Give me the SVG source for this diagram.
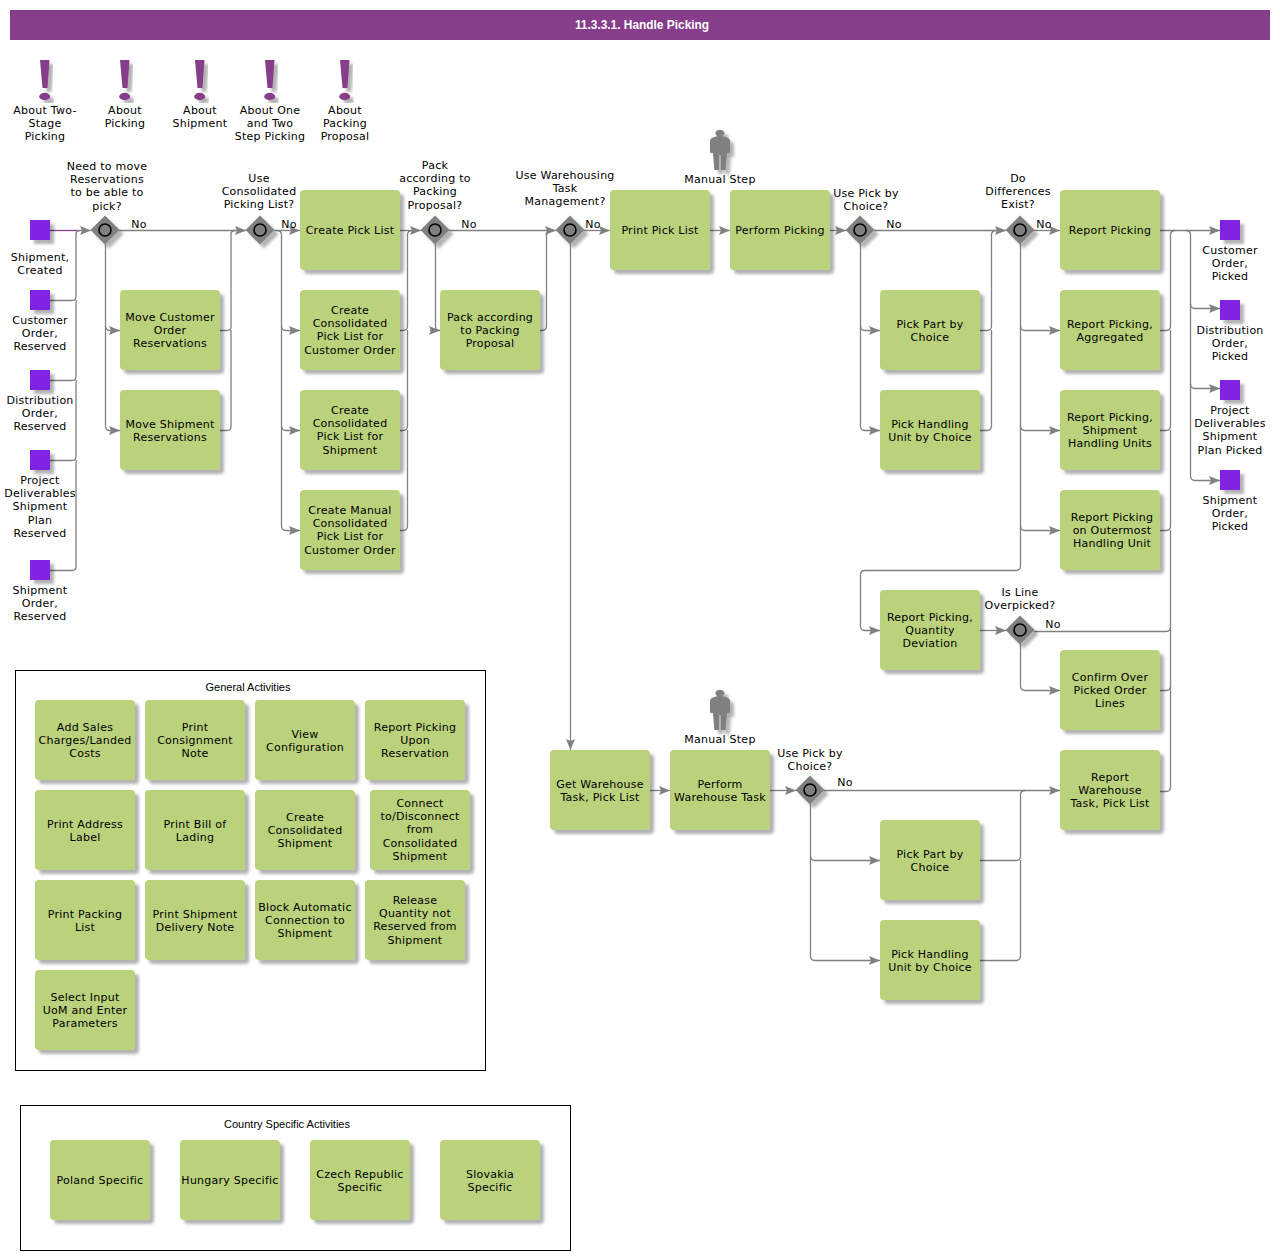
<svg xmlns="http://www.w3.org/2000/svg" width="1280" height="1260" viewBox="0 0 1280 1260">
<defs>
<style>
text{font-family:"DejaVu Sans",Verdana,sans-serif;font-size:11px;letter-spacing:.25px;fill:#000;text-anchor:middle}
.t{font-family:"Liberation Sans",Arial,sans-serif;font-size:11.900px;letter-spacing:0;font-weight:bold;fill:#fff}
.g{font-family:"Liberation Sans",Arial,sans-serif;font-size:11px;letter-spacing:0}
.b{fill:#bbd27c;filter:url(#s)}
.e{fill:#8224e3;filter:url(#s)}
.d{fill:#808080;filter:url(#s)}
.c{fill:#808080;stroke:#000;stroke-width:1.600}
.m{fill:#863d8a;filter:url(#s)}
.p{fill:#808080;filter:url(#s)}
.f{fill:#fff;stroke:#000;stroke-width:1}
.k path{fill:none;stroke:#808080;stroke-width:1.300;marker-end:url(#a)}
.k path.n{marker-end:none}
.k path.u{stroke:#863d8a;marker-end:none}
</style>
<filter id="s" x="-20%" y="-20%" width="150%" height="150%"><feDropShadow dx="4" dy="4" stdDeviation="1.500" flood-color="#000" flood-opacity=".3"/></filter>
<marker id="a" markerUnits="userSpaceOnUse" markerWidth="12" markerHeight="10" refX="11" refY="4.500" orient="auto"><path d="M0 0L11 4.500L0 9L2 4.500z" fill="#808080"/></marker>
<g id="ex"><path class="m" d="M40 60H49.500L47.500 88H42.500z"/><ellipse class="m" cx="44.700" cy="96.500" rx="5.500" ry="3.700"/></g>
<path id="man" class="p" d="M716 136.500Q720 135 724 136.500Q730 137.500 730 141V152Q730 153 729 153H727L725.700 170H720.700V155H719.300V170H714.300L713 153H711Q710 153 710 152V141Q710 137.500 716 136.500ZM720 129.800A4.500 3.500 0 1 1 719.900 129.800Z"/>
</defs>
<g id="title"><rect x="10" y="10" width="1260" height="30" fill="#863d8a"/><text class="t" x="642" y="29">11.3.3.1. Handle Picking</text></g>

<g id="frames">
<rect class="f" x="15.500" y="670.500" width="470" height="400"/>
<text class="g" x="248" y="691">General Activities</text>
<rect class="f" x="20.500" y="1105.500" width="550" height="145"/>
<text class="g" x="287" y="1128">Country Specific Activities</text>
</g>

<g id="connectors" class="k">
<path class="u" d="M50 230.500H77"/>
<path d="M76 230.500H91"/>
<path class="n" d="M50 300.500H72Q76 300.500 76 296.500V234.500Q76 230.500 80 230.500"/>
<path class="n" d="M50 380.500H72Q76 380.500 76 376.500V300"/>
<path class="n" d="M50 460.500H72Q76 460.500 76 456.500V380"/>
<path class="n" d="M50 570.500H72Q76 570.500 76 566.500V460"/>
<path d="M119 230.500H246"/>
<path d="M105.500 244V326Q105.500 330.500 110 330.500H120"/>
<path d="M105.500 326V426Q105.500 430.500 110 430.500H120"/>
<path class="n" d="M220 330.500H227Q231 330.500 231 326.500V234.500Q231 230.500 235 230.500"/>
<path class="n" d="M220 430.500H227Q231 430.500 231 426.500V330"/>
<path d="M274 230.500H300"/>
<path d="M277 230.500Q281.500 230.500 281.500 235V326Q281.500 330.500 286 330.500H300"/>
<path d="M281.500 326V426Q281.500 430.500 286 430.500H300"/>
<path d="M281.500 426V526Q281.500 530.500 286 530.500H300"/>
<path d="M400 230.500H421"/>
<path class="n" d="M400 330.500H403Q407.500 330.500 407.500 326V235Q407.500 230.500 412 230.500"/>
<path class="n" d="M400 430.500H403Q407.500 430.500 407.500 426V330"/>
<path class="n" d="M400 530.500H403Q407.500 530.500 407.500 526V430"/>
<path d="M449 230.500H556"/>
<path class="n" d="M435.500 244V326Q435.500 330.500 440 330.500"/>
<path d="M430 330.500H440"/>
<path class="n" d="M540 330.500H542Q546.500 330.500 546.500 326V235Q546.500 230.500 551 230.500"/>
<path d="M584 230.500H610"/>
<path d="M570.500 244V750"/>
<path d="M710 230.500H730"/>
<path d="M830 230.500H846"/>
<path d="M874 230.500H1006"/>
<path d="M860.500 244V326Q860.500 330.500 865 330.500H880"/>
<path d="M860.500 326V426Q860.500 430.500 865 430.500H880"/>
<path class="n" d="M980 330.500H987Q991.500 330.500 991.500 326V235Q991.500 230.500 996 230.500"/>
<path class="n" d="M980 430.500H987Q991.500 430.500 991.500 426V330"/>
<path d="M1034 230.500H1060"/>
<path d="M1020.500 244V326Q1020.500 330.500 1025 330.500H1060"/>
<path d="M1020.500 326V426Q1020.500 430.500 1025 430.500H1060"/>
<path d="M1020.500 426V526Q1020.500 530.500 1025 530.500H1060"/>
<path d="M1020.500 526V566Q1020.500 570.500 1016 570.500H865Q860.500 570.500 860.500 575V626Q860.500 630.500 865 630.500H880"/>
<path d="M980 630.500H1006"/>
<path class="n" d="M1034 631.500H1166Q1170.500 631.500 1170.500 627"/>
<path d="M1020.500 644V686Q1020.500 690.500 1025 690.500H1060"/>
<path d="M1160 230.500H1220"/>
<path class="n" d="M1160 330.500H1166Q1170.500 330.500 1170.500 326V235Q1170.500 230.500 1175 230.500"/>
<path class="n" d="M1160 430.500H1166Q1170.500 430.500 1170.500 426V330"/>
<path class="n" d="M1160 530.500H1166Q1170.500 530.500 1170.500 526V430"/>
<path class="n" d="M1160 690.500H1166Q1170.500 690.500 1170.500 686V530"/>
<path class="n" d="M1160 791.500H1166Q1170.500 791.500 1170.500 787V686"/>
<path d="M1186 230.500Q1190.500 230.500 1190.500 235V304Q1190.500 308.500 1195 308.500H1220"/>
<path d="M1190.500 304V384Q1190.500 388.500 1195 388.500H1220"/>
<path d="M1190.500 384V476Q1190.500 480.500 1195 480.500H1220"/>
<path d="M650 790.500H670"/>
<path d="M770 790.500H796"/>
<path d="M824 790.500H1060"/>
<path d="M810.500 804V856Q810.500 860.500 815 860.500H880"/>
<path d="M810.500 856V956Q810.500 960.500 815 960.500H880"/>
<path class="n" d="M980 860.500H1016Q1020.500 860.500 1020.500 856V795Q1020.500 790.500 1025 790.500"/>
<path class="n" d="M980 960.500H1016Q1020.500 960.500 1020.500 956V860"/>
</g>

<g id="note1"><use href="#ex"/><text x="45" y="114">About Two-</text><text x="45" y="127">Stage</text><text x="45" y="140">Picking</text></g>
<g id="note2"><use href="#ex" x="80"/><text x="125" y="114">About</text><text x="125" y="127">Picking</text></g>
<g id="note3"><use href="#ex" x="155"/><text x="200" y="114">About</text><text x="200" y="127">Shipment</text></g>
<g id="note4"><use href="#ex" x="225"/><text x="270" y="114">About One</text><text x="270" y="127">and Two</text><text x="270" y="140">Step Picking</text></g>
<g id="note5"><use href="#ex" x="300"/><text x="345" y="114">About</text><text x="345" y="127">Packing</text><text x="345" y="140">Proposal</text></g>

<g id="ev1"><rect class="e" x="30" y="220" width="20" height="20"/><text x="40" y="261">Shipment,</text><text x="40" y="274">Created</text></g>
<g id="ev2"><rect class="e" x="30" y="290" width="20" height="20"/><text x="40" y="324">Customer</text><text x="40" y="337">Order,</text><text x="40" y="350">Reserved</text></g>
<g id="ev3"><rect class="e" x="30" y="370" width="20" height="20"/><text x="40" y="404">Distribution</text><text x="40" y="417">Order,</text><text x="40" y="430">Reserved</text></g>
<g id="ev4"><rect class="e" x="30" y="450" width="20" height="20"/><text x="40" y="484">Project</text><text x="40" y="497">Deliverables</text><text x="40" y="510">Shipment</text><text x="40" y="524">Plan</text><text x="40" y="537">Reserved</text></g>
<g id="ev5"><rect class="e" x="30" y="560" width="20" height="20"/><text x="40" y="594">Shipment</text><text x="40" y="607">Order,</text><text x="40" y="620">Reserved</text></g>
<g id="ev6"><rect class="e" x="1220" y="220" width="20" height="20"/><text x="1230" y="254">Customer</text><text x="1230" y="267">Order,</text><text x="1230" y="280">Picked</text></g>
<g id="ev7"><rect class="e" x="1220" y="300" width="20" height="20"/><text x="1230" y="334">Distribution</text><text x="1230" y="347">Order,</text><text x="1230" y="360">Picked</text></g>
<g id="ev8"><rect class="e" x="1220" y="380" width="20" height="20"/><text x="1230" y="414">Project</text><text x="1230" y="427">Deliverables</text><text x="1230" y="440">Shipment</text><text x="1230" y="454">Plan Picked</text></g>
<g id="ev9"><rect class="e" x="1220" y="470" width="20" height="20"/><text x="1230" y="504">Shipment</text><text x="1230" y="517">Order,</text><text x="1230" y="530">Picked</text></g>

<g id="gw1"><path class="d" d="M105 215.500L119.500 230L105 244.500L90.500 230z"/><circle class="c" cx="105" cy="230" r="6"/><text x="107" y="170">Need to move</text><text x="107" y="183">Reservations</text><text x="107" y="196">to be able to</text><text x="107" y="210">pick?</text><text x="139" y="228">No</text></g>
<g id="gw2"><path class="d" d="M260 215.500L274.500 230L260 244.500L245.500 230z"/><circle class="c" cx="260" cy="230" r="6"/><text x="259" y="182">Use</text><text x="259" y="195">Consolidated</text><text x="259" y="208">Picking List?</text><text x="289" y="228">No</text></g>
<g id="gw3"><path class="d" d="M435 215.500L449.500 230L435 244.500L420.500 230z"/><circle class="c" cx="435" cy="230" r="6"/><text x="435" y="169">Pack</text><text x="435" y="182">according to</text><text x="435" y="195">Packing</text><text x="435" y="209">Proposal?</text><text x="469" y="228">No</text></g>
<g id="gw4"><path class="d" d="M570 215.500L584.500 230L570 244.500L555.500 230z"/><circle class="c" cx="570" cy="230" r="6"/><text x="565" y="179">Use Warehousing</text><text x="565" y="192">Task</text><text x="565" y="205">Management?</text><text x="593" y="228">No</text></g>
<g id="gw5"><path class="d" d="M860 215.500L874.500 230L860 244.500L845.500 230z"/><circle class="c" cx="860" cy="230" r="6"/><text x="866" y="197">Use Pick by</text><text x="866" y="210">Choice?</text><text x="894" y="228">No</text></g>
<g id="gw6"><path class="d" d="M1020 215.500L1034.500 230L1020 244.500L1005.500 230z"/><circle class="c" cx="1020" cy="230" r="6"/><text x="1018" y="182">Do</text><text x="1018" y="195">Differences</text><text x="1018" y="208">Exist?</text><text x="1044" y="228">No</text></g>
<g id="gw7"><path class="d" d="M1020 615.500L1034.500 630L1020 644.500L1005.500 630z"/><circle class="c" cx="1020" cy="630" r="6"/><text x="1020" y="596">Is Line</text><text x="1020" y="609">Overpicked?</text><text x="1053" y="628">No</text></g>
<g id="gw8"><path class="d" d="M810 775.500L824.500 790L810 804.500L795.500 790z"/><circle class="c" cx="810" cy="790" r="6"/><text x="810" y="757">Use Pick by</text><text x="810" y="770">Choice?</text><text x="845" y="786">No</text></g>

<g id="manual1"><use href="#man"/><text x="720" y="183">Manual Step</text></g>
<g id="manual2"><use href="#man" y="560"/><text x="720" y="743">Manual Step</text></g>

<g id="n1"><rect class="b" x="120" y="290" width="100" height="80" rx="4"/><text x="170" y="321">Move Customer</text><text x="170" y="334">Order</text><text x="170" y="347">Reservations</text></g>
<g id="n2"><rect class="b" x="120" y="390" width="100" height="80" rx="4"/><text x="170" y="428">Move Shipment</text><text x="170" y="441">Reservations</text></g>
<g id="n3"><rect class="b" x="300" y="190" width="100" height="80" rx="4"/><text x="350" y="234">Create Pick List</text></g>
<g id="n4"><rect class="b" x="300" y="290" width="100" height="80" rx="4"/><text x="350" y="314">Create</text><text x="350" y="327">Consolidated</text><text x="350" y="340">Pick List for</text><text x="350" y="354">Customer Order</text></g>
<g id="n5"><rect class="b" x="300" y="390" width="100" height="80" rx="4"/><text x="350" y="414">Create</text><text x="350" y="427">Consolidated</text><text x="350" y="440">Pick List for</text><text x="350" y="454">Shipment</text></g>
<g id="n6"><rect class="b" x="300" y="490" width="100" height="80" rx="4"/><text x="350" y="514">Create Manual</text><text x="350" y="527">Consolidated</text><text x="350" y="540">Pick List for</text><text x="350" y="554">Customer Order</text></g>
<g id="n7"><rect class="b" x="440" y="290" width="100" height="80" rx="4"/><text x="490" y="321">Pack according</text><text x="490" y="334">to Packing</text><text x="490" y="347">Proposal</text></g>
<g id="n8"><rect class="b" x="610" y="190" width="100" height="80" rx="4"/><text x="660" y="234">Print Pick List</text></g>
<g id="n9"><rect class="b" x="730" y="190" width="100" height="80" rx="4"/><text x="780" y="234">Perform Picking</text></g>
<g id="n10"><rect class="b" x="880" y="290" width="100" height="80" rx="4"/><text x="930" y="328">Pick Part by</text><text x="930" y="341">Choice</text></g>
<g id="n11"><rect class="b" x="880" y="390" width="100" height="80" rx="4"/><text x="930" y="428">Pick Handling</text><text x="930" y="441">Unit by Choice</text></g>
<g id="n12"><rect class="b" x="1060" y="190" width="100" height="80" rx="4"/><text x="1110" y="234">Report Picking</text></g>
<g id="n13"><rect class="b" x="1060" y="290" width="100" height="80" rx="4"/><text x="1110" y="328">Report Picking,</text><text x="1110" y="341">Aggregated</text></g>
<g id="n14"><rect class="b" x="1060" y="390" width="100" height="80" rx="4"/><text x="1110" y="421">Report Picking,</text><text x="1110" y="434">Shipment</text><text x="1110" y="447">Handling Units</text></g>
<g id="n15"><rect class="b" x="1060" y="490" width="100" height="80" rx="4"/><text x="1112" y="521">Report Picking</text><text x="1112" y="534">on Outermost</text><text x="1112" y="547">Handling Unit</text></g>
<g id="n16"><rect class="b" x="880" y="590" width="100" height="80" rx="4"/><text x="930" y="621">Report Picking,</text><text x="930" y="634">Quantity</text><text x="930" y="647">Deviation</text></g>
<g id="n17"><rect class="b" x="1060" y="650" width="100" height="80" rx="4"/><text x="1110" y="681">Confirm Over</text><text x="1110" y="694">Picked Order</text><text x="1110" y="707">Lines</text></g>
<g id="n18"><rect class="b" x="1060" y="750" width="100" height="80" rx="4"/><text x="1110" y="781">Report</text><text x="1110" y="794">Warehouse</text><text x="1110" y="807">Task, Pick List</text></g>
<g id="n19"><rect class="b" x="550" y="750" width="100" height="80" rx="4"/><text x="600" y="788">Get Warehouse</text><text x="600" y="801">Task, Pick List</text></g>
<g id="n20"><rect class="b" x="670" y="750" width="100" height="80" rx="4"/><text x="720" y="788">Perform</text><text x="720" y="801">Warehouse Task</text></g>
<g id="n21"><rect class="b" x="880" y="820" width="100" height="80" rx="4"/><text x="930" y="858">Pick Part by</text><text x="930" y="871">Choice</text></g>
<g id="n22"><rect class="b" x="880" y="920" width="100" height="80" rx="4"/><text x="930" y="958">Pick Handling</text><text x="930" y="971">Unit by Choice</text></g>

<g id="a1"><rect class="b" x="35" y="700" width="100" height="80" rx="4"/><text x="85" y="731">Add Sales</text><text x="85" y="744">Charges/Landed</text><text x="85" y="757">Costs</text></g>
<g id="a2"><rect class="b" x="145" y="700" width="100" height="80" rx="4"/><text x="195" y="731">Print</text><text x="195" y="744">Consignment</text><text x="195" y="757">Note</text></g>
<g id="a3"><rect class="b" x="255" y="700" width="100" height="80" rx="4"/><text x="305" y="738">View</text><text x="305" y="751">Configuration</text></g>
<g id="a4"><rect class="b" x="365" y="700" width="100" height="80" rx="4"/><text x="415" y="731">Report Picking</text><text x="415" y="744">Upon</text><text x="415" y="757">Reservation</text></g>
<g id="a5"><rect class="b" x="35" y="790" width="100" height="80" rx="4"/><text x="85" y="828">Print Address</text><text x="85" y="841">Label</text></g>
<g id="a6"><rect class="b" x="145" y="790" width="100" height="80" rx="4"/><text x="195" y="828">Print Bill of</text><text x="195" y="841">Lading</text></g>
<g id="a7"><rect class="b" x="255" y="790" width="100" height="80" rx="4"/><text x="305" y="821">Create</text><text x="305" y="834">Consolidated</text><text x="305" y="847">Shipment</text></g>
<g id="a8"><rect class="b" x="370" y="790" width="100" height="80" rx="4"/><text x="420" y="807">Connect</text><text x="420" y="820">to/Disconnect</text><text x="420" y="833">from</text><text x="420" y="847">Consolidated</text><text x="420" y="860">Shipment</text></g>
<g id="a9"><rect class="b" x="35" y="880" width="100" height="80" rx="4"/><text x="85" y="918">Print Packing</text><text x="85" y="931">List</text></g>
<g id="a10"><rect class="b" x="145" y="880" width="100" height="80" rx="4"/><text x="195" y="918">Print Shipment</text><text x="195" y="931">Delivery Note</text></g>
<g id="a11"><rect class="b" x="255" y="880" width="100" height="80" rx="4"/><text x="305" y="911">Block Automatic</text><text x="305" y="924">Connection to</text><text x="305" y="937">Shipment</text></g>
<g id="a12"><rect class="b" x="365" y="880" width="100" height="80" rx="4"/><text x="415" y="904">Release</text><text x="415" y="917">Quantity not</text><text x="415" y="930">Reserved from</text><text x="415" y="944">Shipment</text></g>
<g id="a13"><rect class="b" x="35" y="970" width="100" height="80" rx="4"/><text x="85" y="1001">Select Input</text><text x="85" y="1014">UoM and Enter</text><text x="85" y="1027">Parameters</text></g>

<g id="c1"><rect class="b" x="50" y="1140" width="100" height="80" rx="4"/><text x="100" y="1184">Poland Specific</text></g>
<g id="c2"><rect class="b" x="180" y="1140" width="100" height="80" rx="4"/><text x="230" y="1184">Hungary Specific</text></g>
<g id="c3"><rect class="b" x="310" y="1140" width="100" height="80" rx="4"/><text x="360" y="1178">Czech Republic</text><text x="360" y="1191">Specific</text></g>
<g id="c4"><rect class="b" x="440" y="1140" width="100" height="80" rx="4"/><text x="490" y="1178">Slovakia</text><text x="490" y="1191">Specific</text></g>
</svg>
